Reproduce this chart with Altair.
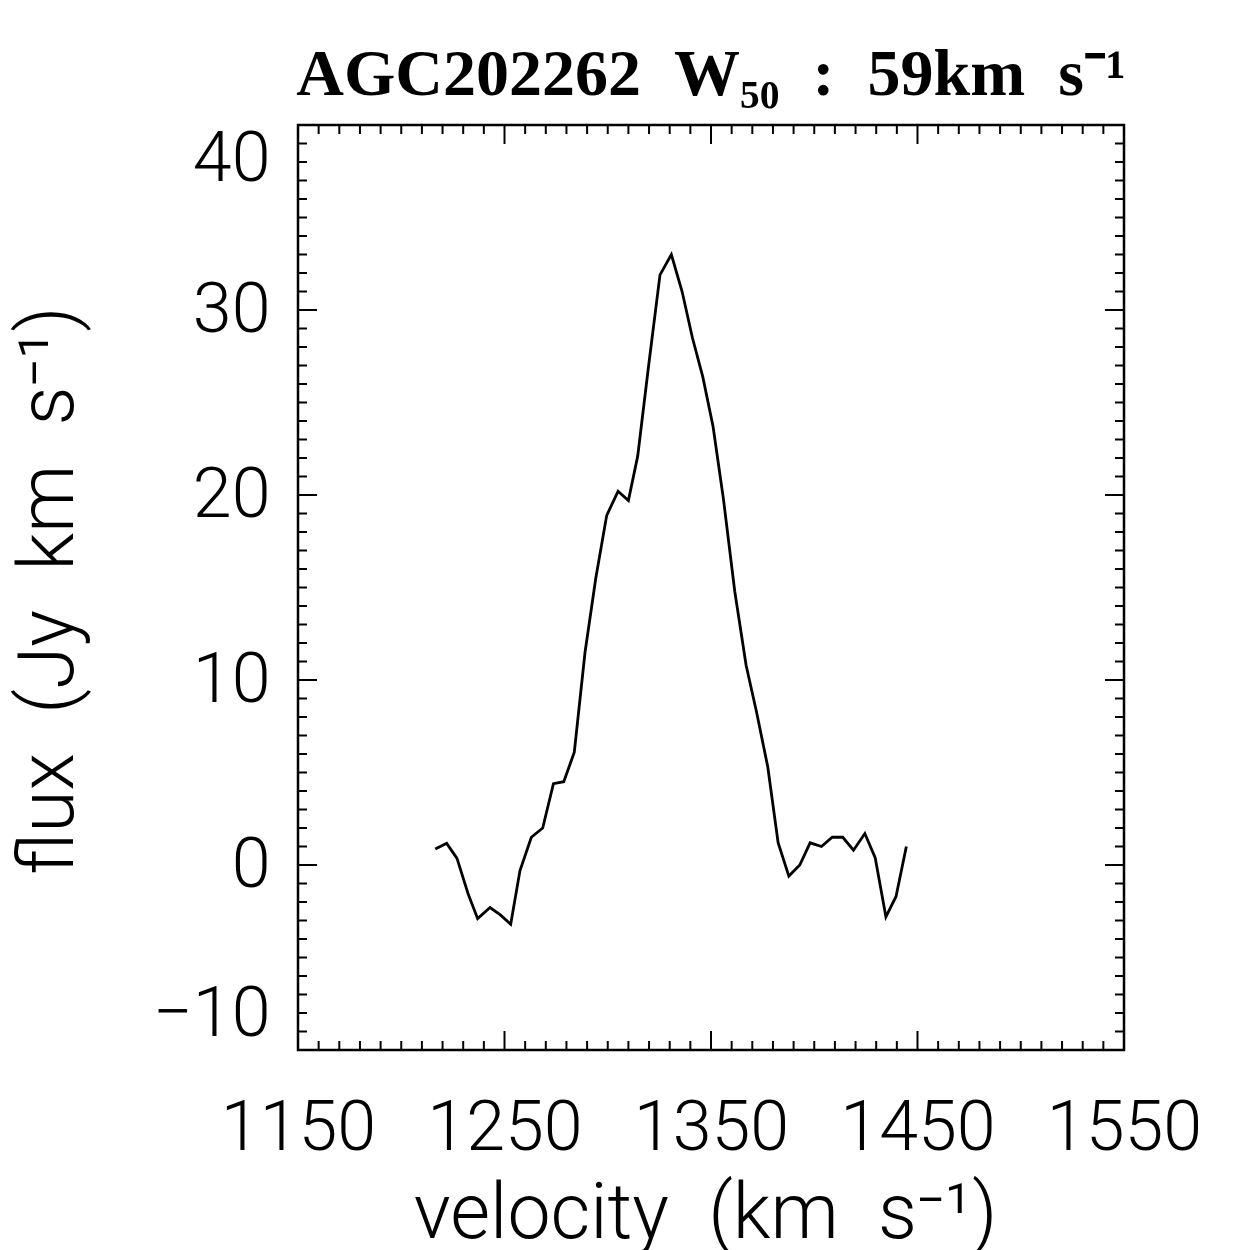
import altair as alt
import pandas as pd

# ---- data ----
velocity = [1216.5, 1222.0, 1227.0, 1232.5, 1237.0, 1243.0, 1248.0, 1253.0, 1257.5, 1263.0,
            1268.5, 1273.7, 1278.7, 1283.8, 1289.0, 1294.2, 1299.5, 1305.0, 1310.0, 1314.5,
            1319.8, 1325.3, 1330.8, 1336.0, 1341.0, 1346.0, 1351.0, 1356.0, 1361.5, 1367.0,
            1372.0, 1377.5, 1382.5, 1387.7, 1393.0, 1398.0, 1403.5, 1408.7, 1413.8, 1419.0,
            1424.5, 1429.5, 1434.7, 1439.6, 1444.6]
flux = [0.86, 1.17, 0.36, -1.6, -2.9, -2.3, -2.7, -3.2, -0.3, 1.5,
        2.0, 4.4, 4.5, 6.1, 11.5, 15.5, 18.9, 20.2, 19.7, 22.1,
        27.0, 31.9, 33.0, 31.0, 28.5, 26.4, 23.7, 19.8, 14.8, 10.8,
        8.3, 5.3, 1.2, -0.6, 0.0, 1.2, 1.0, 1.5, 1.5, 0.8,
        1.7, 0.4, -2.8, -1.7, 1.0]

x_tick_labels = [1150, 1250, 1350, 1450, 1550]
x_major_ticks = [1250, 1350, 1450]
x_minor_ticks = [v for v in range(1160, 1550, 10) if v not in (1250, 1350, 1450)]
y_tick_labels = [-10, 0, 10, 20, 30, 40]
y_major_ticks = [0, 10, 20, 30]
y_minor_ticks = [v for v in range(-9, 40) if v % 10 != 0]

SP = "\u2002"  # en space, to mimic the wide spacing of the original font
title_text = f"AGC202262{SP}W\u2085\u2080{SP}:{SP}59km{SP}s\u207b\u00b9"
x_title = f"velocity{SP}(km{SP}s\u207b\u00b9)"
y_title = f"flux{SP}(Jy{SP}km{SP}s\u207b\u00b9)"

W, H = 826, 925
XDOM = [1150, 1550]
YDOM = [-10, 40]
LABEL_FONT = "Roboto"

df = pd.DataFrame({"velocity": velocity, "flux": flux})
xscale = alt.Scale(domain=XDOM, nice=False, zero=False)
yscale = alt.Scale(domain=YDOM, nice=False, zero=False)

line = alt.Chart(df).mark_line(color="black", strokeWidth=2.8).encode(
    x=alt.X("velocity:Q", scale=xscale,
            axis=alt.Axis(values=x_tick_labels, ticks=False, domain=False, grid=False,
                          labelFontSize=70, labelFont=LABEL_FONT, labelFontWeight=300,
                          labelColor="black", labelPadding=44, labelFlush=False,
                          format="d", labelOverlap=False,
                          title=x_title, titleFont=LABEL_FONT, titleFontWeight=300,
                          titleFontSize=77, titleColor="black",
                          titleX=407, titleY=187, titleBaseline="alphabetic",
                          titleAlign="center")),
    y=alt.Y("flux:Q", scale=yscale,
            axis=alt.Axis(values=y_tick_labels, ticks=False, domain=False, grid=False,
                          labelFontSize=70, labelFont=LABEL_FONT, labelFontWeight=300,
                          labelColor="black", labelPadding=28, labelFlush=True,
                          labelFlushOffset=0, labelOverlap=False,
                          title=y_title, titleFont=LABEL_FONT, titleFontWeight=300,
                          titleFontSize=77, titleColor="black", titleAngle=-90,
                          titleX=-249, titleY=465, titleBaseline="middle",
                          titleAlign="center")),
)

def xticks(vals, y0, y1):
    return alt.Chart(pd.DataFrame({"velocity": vals})).mark_rule(color="black", strokeWidth=2).encode(
        x=alt.X("velocity:Q", scale=xscale),
        y=alt.value(y0), y2=alt.value(y1))

def yticks(vals, x0, x1):
    return alt.Chart(pd.DataFrame({"flux": vals})).mark_rule(color="black", strokeWidth=2).encode(
        y=alt.Y("flux:Q", scale=yscale),
        x=alt.value(x0), x2=alt.value(x1))

MAJ, MIN = 19, 9
layers = [
    line,
    xticks(x_major_ticks, H, H - MAJ), xticks(x_minor_ticks, H, H - MIN),
    xticks(x_major_ticks, 0, MAJ), xticks(x_minor_ticks, 0, MIN),
    yticks(y_major_ticks, 0, MAJ), yticks(y_minor_ticks, 0, MIN),
    yticks(y_major_ticks, W, W - MAJ), yticks(y_minor_ticks, W, W - MIN),
]

chart = alt.layer(*layers).properties(
    width=W, height=H,
    title=alt.TitleParams(text=title_text, font="Liberation Serif", fontWeight="bold",
                          fontSize=66, color="black", anchor="middle",
                          baseline="alphabetic", offset=-37),
    autosize=alt.AutoSizeParams(type="none"),
    padding={"left": 298, "top": 125, "right": 126, "bottom": 200},
    background="white",
).configure_view(stroke="black", strokeWidth=2.5)

chart.save("out.html", embed_options={"renderer": "svg", "actions": False})
